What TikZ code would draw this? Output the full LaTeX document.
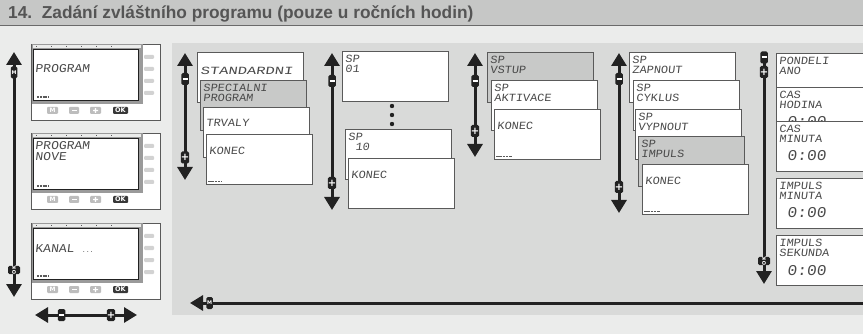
\documentclass[tikz,border=0pt]{standalone}
\usepackage{fontspec}
\setmainfont{Liberation Sans}
\newfontfamily\lcdfont[FakeSlant=0.12, FakeStretch=1.08]{Liberation Mono}
\newfontfamily\keyfont{DejaVu Sans}
\usepackage{tikz}
\usetikzlibrary{arrows.meta, positioning}

\definecolor{pagebg}{HTML}{EBECEB}
\definecolor{panelbg}{HTML}{D9DAD9}
\definecolor{titlebg}{HTML}{C6C7C6}
\definecolor{titleline}{HTML}{6A6A6A}
\definecolor{titletxt}{HTML}{555555}
\definecolor{ink}{HTML}{222222}
\definecolor{frame}{HTML}{5A5A5A}
\definecolor{cardgray}{HTML}{C8C9C8}
\definecolor{lcdtxt}{HTML}{4A4A4A}
\definecolor{bezelgray}{HTML}{9A9A9A}
\definecolor{keygray}{HTML}{D2D2D2}
\definecolor{keymid}{HTML}{BDBDBD}

\tikzset{>={Triangle[width=15pt,length=13pt]}}
\tikzset{
  nav/.style={draw=ink, line width=3pt},
  badge/.style={fill=ink, rounded corners=1.5pt, inner sep=0pt, minimum width=7.5pt,
    minimum height=12pt, text=white, font=\keyfont\bfseries\fontsize{10}{10}\selectfont},
  tinybadge/.style={badge, minimum width=6.5pt, font=\keyfont\bfseries\fontsize{5}{5}\selectfont},
  card/.style={draw=frame, line width=0.9pt, fill=white, anchor=north west,
    minimum width=106pt, minimum height=50pt, inner sep=0pt},
  graycard/.style={card, fill=cardgray},
  lcd/.style={anchor=base west, inner sep=0pt, text=lcdtxt, font=\lcdfont\fontsize{11}{11}\selectfont},
  devtext/.style={lcd, font=\lcdfont\fontsize{12}{12}\selectfont},
  digits/.style={lcd, font=\lcdfont\fontsize{15}{15}\selectfont},
  clock/.pic={
    %case
    \draw[draw=frame, line width=0.8pt, fill=white] (0,0) rectangle (129,76);
    %bezel and display
    \fill[bezelgray] (1,0.5) rectangle (112,60);
    \fill[pagebg] (2,1) rectangle (110,4.5);
    \draw[frame, line width=0.6pt] (5,2)--(5,3.5) (20,2)--(20,3.5) (35,2)--(35,3.5)
      (50,2)--(50,3.5) (65,2)--(65,3.5) (80,2)--(80,3.5);
    \draw[draw=ink, line width=0.9pt, fill=white] (2.5,5) rectangle (107,56);
    \draw[frame, line width=1.4pt, dash pattern=on 2pt off 0.8pt] (6,53) -- (18,53);
    %side keys
    \fill[keygray, rounded corners=1pt] (113,11) rectangle (123,15);
    \fill[keygray, rounded corners=1pt] (113,23) rectangle (123,27);
    \fill[keygray, rounded corners=1pt] (113,35) rectangle (123,39);
    \fill[keygray, rounded corners=1pt] (113,47) rectangle (123,51);
    %front keys
    \fill[keymid, rounded corners=1pt] (16,63) rectangle (27,70);
    \node[text=white, inner sep=0pt, font=\keyfont\bfseries\fontsize{6}{6}\selectfont] (km) at (21.5,66.5) {M};
    \fill[keymid, rounded corners=1pt] (38,63) rectangle (48,70);
    \fill[white] (40.5,66) rectangle (45.5,67.2);
    \fill[keymid, rounded corners=1pt] (59,63) rectangle (70,70);
    \fill[white] (62,66) rectangle (67,67.2) (63.9,64.2) rectangle (65.1,69);
    \fill[ink!90, rounded corners=1pt] (82,63) rectangle (97,70);
    \node[text=white, inner sep=0pt, font=\keyfont\bfseries\fontsize{6.5}{6.5}\selectfont] (kok) at (89.5,66.5) {OK};
  }
}

\begin{document}
\begin{tikzpicture}[x=1pt, y=-1pt]
  \useasboundingbox (0,0) rectangle (863,334);
  \fill[pagebg] (0,0) rectangle (863,334);

  %title bar
  \fill[titlebg] (0,0) rectangle (863,25);
  \draw[titleline, line width=1.2pt] (0,25.3) -- (863,25.3);
  \node[anchor=base west, inner sep=0pt, text=titletxt,
    font=\bfseries\fontsize{17.3}{17.3}\selectfont] (title) at (8,18.5)
    {14.\ \ Zadání zvláštního programu (pouze u ročních hodin)};

  %grey panel
  \fill[panelbg] (172,43) rectangle (863,315);

  %left devices
  \pic (dev1) at (31,44) {clock};
  \pic (dev2) at (31,133) {clock};
  \pic (dev3) at (31,223) {clock};
  \node[devtext] (dev1a) at (35,73) {PROGRAM};
  \node[devtext] (dev2a) at (35,150) {PROGRAM};
  \node[devtext] (dev2b) at (35,161) {NOVE};
  \node[devtext] (dev3a) at (35,253) {KANAL {\fontsize{6}{6}\selectfont ...}};

  %left M/OK arrow
  \coordinate (lt) at (14,52);
  \coordinate (lb) at (14,297);
  \draw[nav, <->] (lt) -- (lb);
  \node[tinybadge] (lM) at (14,72.5) {M};
  \node[tinybadge, rotate=90] (lOK) at (14,270) {OK};

  %minus/plus arrow under devices
  \coordinate (hl) at (35,315);
  \coordinate (hr) at (137,315);
  \draw[nav, <->] (hl) -- (hr);
  \node[badge] (hMinus) at (61.5,315) {\rule[0.3pt]{5pt}{1.8pt}};
  \node[badge] (hPlus) at (111,315) {+};

  %standard / special menu
  \coordinate (at) at (185,53);
  \coordinate (ab) at (185,180);
  \draw[nav, <->] (at) -- (ab);
  \node[badge] (aMinus) at (185,79) {\rule[0.3pt]{5pt}{1.8pt}};
  \node[badge] (aPlus) at (185,157.5) {+};
  \node[card] (a1) at (197,52) {};
  \node[lcd, xscale=1.3] (a1a) at ([shift={(3,23)}]a1.north west) {STANDARDNI};
  \node[graycard] (a2) at (200,80) {};
  \node[lcd] (a2a) at ([shift={(3,12)}]a2.north west) {SPECIALNI};
  \node[lcd] (a2b) at ([shift={(3,22)}]a2.north west) {PROGRAM};
  \node[card] (a3) at (203,107) {};
  \node[lcd] (a3a) at ([shift={(3,20)}]a3.north west) {TRVALY};
  \node[card] (a4) at (206,134) {};
  \node[lcd] (a4a) at ([shift={(3,21)}]a4.north west) {KONEC};
  \draw[frame, line width=1.4pt, dash pattern=on 2.5pt off 0.8pt] ([shift={(2,47.5)}]a4.north west) -- ++(14,0);

  %program numbers
  \coordinate (bt) at (332,53);
  \coordinate (bb) at (332,210);
  \draw[nav, <->] (bt) -- (bb);
  \node[badge] (bMinus) at (332,81) {\rule[0.3pt]{5pt}{1.8pt}};
  \node[badge] (bPlus) at (332,183) {+};
  \node[card] (b1) at (342,51) {};
  \node[lcd] (b1a) at ([shift={(3,12)}]b1.north west) {SP};
  \node[lcd] (b1b) at ([shift={(3,22)}]b1.north west) {01};
  \fill[ink] (392,106) circle (2.2) (392,115) circle (2.2) (392,124) circle (2.2);
  \node[card] (b2) at (345,129) {};
  \node[lcd] (b2a) at ([shift={(3,12)}]b2.north west) {SP};
  \node[lcd] (b2b) at ([shift={(3,22)}]b2.north west) {\ 10};
  \node[card] (b3) at (348,158) {};
  \node[lcd] (b3a) at ([shift={(3,21)}]b3.north west) {KONEC};

  %input menu
  \coordinate (ct) at (475,53);
  \coordinate (cb) at (475,157);
  \draw[nav, <->] (ct) -- (cb);
  \node[badge] (cMinus) at (475,81) {\rule[0.3pt]{5pt}{1.8pt}};
  \node[badge] (cPlus) at (475,131) {+};
  \node[graycard] (c1) at (487,52) {};
  \node[lcd] (c1a) at ([shift={(3,12)}]c1.north west) {SP};
  \node[lcd] (c1b) at ([shift={(3,22)}]c1.north west) {VSTUP};
  \node[card] (c2) at (491,80) {};
  \node[lcd] (c2a) at ([shift={(3,12)}]c2.north west) {SP};
  \node[lcd] (c2b) at ([shift={(3,22)}]c2.north west) {AKTIVACE};
  \node[card] (c3) at (494,109) {};
  \node[lcd] (c3a) at ([shift={(3,21)}]c3.north west) {KONEC};
  \draw[frame, line width=1.4pt, dash pattern=on 2.5pt off 0.8pt] ([shift={(2,47.5)}]c3.north west) -- ++(16,0);

  %switching menu
  \coordinate (dt) at (619,53);
  \coordinate (db) at (619,213);
  \draw[nav, <->] (dt) -- (db);
  \node[badge] (dMinus) at (619,79) {\rule[0.3pt]{5pt}{1.8pt}};
  \node[badge] (dPlus) at (619,187) {+};
  \node[card] (d1) at (629,52) {};
  \node[lcd] (d1a) at ([shift={(3,12)}]d1.north west) {SP};
  \node[lcd] (d1b) at ([shift={(3,22)}]d1.north west) {ZAPNOUT};
  \node[card] (d2) at (633,80) {};
  \node[lcd] (d2a) at ([shift={(3,12)}]d2.north west) {SP};
  \node[lcd] (d2b) at ([shift={(3,22)}]d2.north west) {CYKLUS};
  \node[card] (d3) at (635,109) {};
  \node[lcd] (d3a) at ([shift={(3,12)}]d3.north west) {SP};
  \node[lcd] (d3b) at ([shift={(3,22)}]d3.north west) {VYPNOUT};
  \node[graycard] (d4) at (638,136) {};
  \node[lcd] (d4a) at ([shift={(3,12)}]d4.north west) {SP};
  \node[lcd] (d4b) at ([shift={(3,22)}]d4.north west) {IMPULS};
  \node[card] (d5) at (642,164) {};
  \node[lcd] (d5a) at ([shift={(3,21)}]d5.north west) {KONEC};
  \draw[frame, line width=1.4pt, dash pattern=on 2.5pt off 0.8pt] ([shift={(2,47.5)}]d5.north west) -- ++(16,0);

  %day and time settings
  \coordinate (et) at (764,52);
  \coordinate (eb) at (764,284);
  \draw[nav, ->] (et) -- (eb);
  \node[badge] (eMinus) at (764,57.5) {\rule[0.3pt]{5pt}{1.8pt}};
  \node[badge] (ePlus) at (764,72) {+};
  \node[tinybadge, rotate=90] (eOK) at (764,261) {OK};
  \node[card] (e1) at (776,53) {};
  \node[lcd] (e1a) at ([shift={(3,12)}]e1.north west) {PONDELI};
  \node[lcd] (e1b) at ([shift={(3,22)}]e1.north west) {ANO};
  \node[card] (e2) at (776,87) {};
  \node[lcd] (e2a) at ([shift={(3,12)}]e2.north west) {CAS};
  \node[lcd] (e2b) at ([shift={(3,22)}]e2.north west) {HODINA};
  \node[digits] (e2c) at ([shift={(11,40)}]e2.north west) {0:00};
  \node[card] (e3) at (776,121) {};
  \node[lcd] (e3a) at ([shift={(3,12)}]e3.north west) {CAS};
  \node[lcd] (e3b) at ([shift={(3,22)}]e3.north west) {MINUTA};
  \node[digits] (e3c) at ([shift={(11,40)}]e3.north west) {0:00};
  \node[card] (e4) at (776,178) {};
  \node[lcd] (e4a) at ([shift={(3,12)}]e4.north west) {IMPULS};
  \node[lcd] (e4b) at ([shift={(3,22)}]e4.north west) {MINUTA};
  \node[digits] (e4c) at ([shift={(11,40)}]e4.north west) {0:00};
  \node[card] (e5) at (776,235) {};
  \node[lcd] (e5a) at ([shift={(3,12)}]e5.north west) {IMPULS};
  \node[lcd] (e5b) at ([shift={(3,22)}]e5.north west) {SEKUNDA};
  \node[digits] (e5c) at ([shift={(11,40)}]e5.north west) {0:00};

  %M back arrow
  \coordinate (mr) at (863,303);
  \coordinate (ml) at (190,303);
  \draw[nav, ->] (mr) -- (ml);
  \node[tinybadge] (mM) at (209.5,303) {M};
\end{tikzpicture}
\end{document}
